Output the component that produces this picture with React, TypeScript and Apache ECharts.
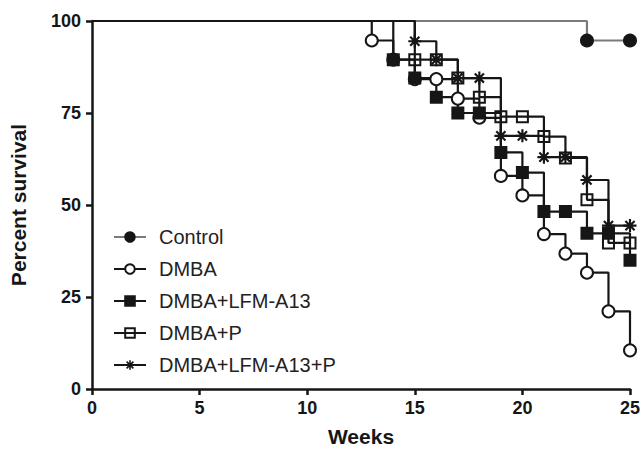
import React, { useEffect, useRef } from "react";
import * as echarts from "echarts";

const seriesNames = ["Control", "DMBA", "DMBA+LFM-A13", "DMBA+P", "DMBA+LFM-A13+P"];

const controlData: number[][] = [[0, 100], [23, 94.7], [25, 94.7]];
const dmbaData: number[][] = [
  [0, 100], [13, 94.7], [14, 89.5], [15, 84.2], [16, 84.2], [17, 78.9], [18, 73.7],
  [19, 57.9], [20, 52.6], [21, 42.1], [22, 36.8], [23, 31.6], [24, 21.1], [25, 10.5],
];
const lfmData: number[][] = [
  [0, 100], [14, 89.5], [15, 84.5], [16, 79.3], [17, 75], [18, 75], [19, 64.3],
  [20, 58.8], [21, 48.2], [22, 48.2], [23, 42.3], [24, 42.3], [25, 35],
];
const pData: number[][] = [
  [0, 100], [15, 89.5], [16, 89.5], [17, 84.5], [18, 79.3], [19, 74], [20, 74],
  [21, 68.6], [22, 62.8], [23, 51.4], [24, 39.7], [25, 39.7],
];
const lfmpData: number[][] = [
  [0, 100], [15, 94.5], [16, 89.5], [17, 84.5], [18, 84.5], [19, 68.8], [20, 68.8],
  [21, 63], [22, 63], [23, 56.8], [24, 44.4], [25, 44.4],
];

const xTicks = [0, 5, 10, 15, 20, 25];
const yTicks = [0, 25, 50, 75, 100];

const STAR =
  "path://M-1,-6 L1,-6 L1,6 L-1,6 Z M-6,-1 L6,-1 L6,1 L-6,1 Z " +
  "M-3.536,-4.950 L4.950,3.536 L3.536,4.950 L-4.950,-3.536 Z " +
  "M-4.950,3.536 L3.536,-4.950 L4.950,-3.536 L-3.536,4.950 Z";

const INK = "#161616";
const FONT = "'Liberation Sans', Arial, sans-serif";

function toData(arr: number[][]) {
  return arr.map((p, i) => (i === 0 ? { value: p, symbol: "none" } : { value: p }));
}

export default function App() {
  const ref = useRef<HTMLDivElement>(null);
  useEffect(() => {
    if (!ref.current) return;
    document.body.style.margin = "0";
    const chart = echarts.init(ref.current, null, { renderer: "svg" });
    const mk = (
      name: string,
      data: number[][],
      symbol: string,
      size: number,
      fill: string,
      lineColor: string
    ) => ({
      name,
      type: "line",
      step: "end",
      data: toData(data),
      symbol,
      symbolSize: size,
      showAllSymbol: true,
      clip: false,
      lineStyle: { color: lineColor, width: 2.2 },
      itemStyle: { color: fill, borderColor: INK, borderWidth: symbol === STAR ? 0 : 2 },
      emphasis: { disabled: true },
    });
    chart.setOption({
      animation: false,
      grid: {
        left: 92,
        right: 13,
        top: 21,
        bottom: 64,
        containLabel: false,
        outerBoundsMode: "none",
      },
      legend: {
        orient: "vertical",
        left: 113,
        top: 227,
        padding: 0,
        itemWidth: 32,
        itemHeight: 12,
        itemGap: 12,
        data: seriesNames,
        textStyle: { fontFamily: FONT, fontSize: 20, color: "#222", padding: [0, 0, 0, 8] },
        selectedMode: false,
      },
      xAxis: {
        type: "value",
        min: xTicks[0],
        max: xTicks[xTicks.length - 1],
        interval: 5,
        name: "Weeks",
        nameLocation: "middle",
        nameGap: 37,
        nameTextStyle: { fontFamily: FONT, fontSize: 21, fontWeight: "bold", color: INK },
        axisLine: { show: true, lineStyle: { color: INK, width: 2.5 } },
        axisTick: { show: true, length: 6, lineStyle: { color: INK, width: 2.5 } },
        axisLabel: { fontFamily: FONT, fontSize: 18, fontWeight: "bold", color: INK, margin: 10 },
        splitLine: { show: false },
      },
      yAxis: {
        type: "value",
        min: yTicks[0],
        max: yTicks[yTicks.length - 1],
        interval: 25,
        name: "Percent survival",
        nameLocation: "middle",
        nameGap: 63,
        nameTextStyle: { fontFamily: FONT, fontSize: 21, fontWeight: "bold", color: INK },
        axisLine: { show: true, lineStyle: { color: INK, width: 2.5 } },
        axisTick: { show: true, length: 6, lineStyle: { color: INK, width: 2.5 } },
        axisLabel: { fontFamily: FONT, fontSize: 18, fontWeight: "bold", color: INK, margin: 11 },
        splitLine: { show: false },
      },
      series: [
        mk(seriesNames[0], controlData, "circle", 12, INK, "#7a7a7a"),
        mk(seriesNames[1], dmbaData, "circle", 12, "#ffffff", INK),
        mk(seriesNames[2], lfmData, "rect", 11, INK, INK),
        mk(seriesNames[3], pData, "rect", 11, "rgba(255,255,255,0)", INK),
        mk(seriesNames[4], lfmpData, STAR, 13, INK, INK),
      ],
    });
    return () => chart.dispose();
  }, []);
  return <div ref={ref} style={{ width: 643, height: 453 }} />;
}
